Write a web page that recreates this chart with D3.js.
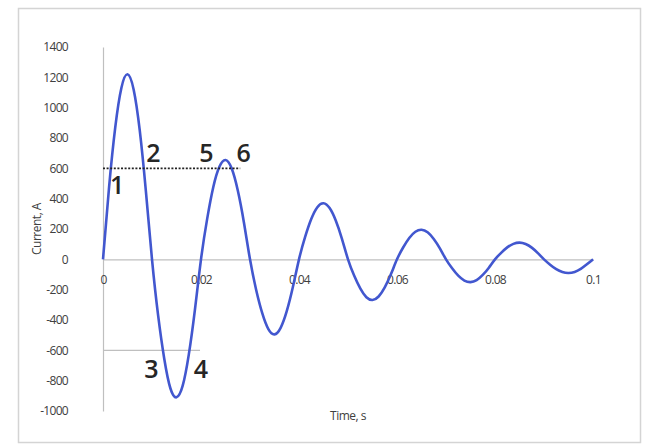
<!DOCTYPE html>
<html>
<head>
<meta charset="utf-8">
<script src="https://cdn.jsdelivr.net/npm/d3@7"></script>
<style>
  html, body { margin: 0; padding: 0; background: #ffffff; }
  svg { display: block; }
</style>
</head>
<body>
<svg id="chart" width="647" height="446"></svg>
<script>
// ---- data ----
const timeValues = [
  0, 0.00125, 0.0025, 0.00375, 0.005, 0.00625, 0.0075, 0.00875,
  0.01, 0.01125, 0.0125, 0.01375, 0.015, 0.01625, 0.0175, 0.01875,
  0.02, 0.02125, 0.0225, 0.02375, 0.025, 0.02625, 0.0275, 0.02875,
  0.03, 0.03125, 0.0325, 0.03375, 0.035, 0.03625, 0.0375, 0.03875,
  0.04, 0.04125, 0.0425, 0.04375, 0.045, 0.04625, 0.0475, 0.04875,
  0.05, 0.05125, 0.0525, 0.05375, 0.055, 0.05625, 0.0575, 0.05875,
  0.06, 0.06125, 0.0625, 0.06375, 0.065, 0.06625, 0.0675, 0.06875,
  0.07, 0.07125, 0.0725, 0.07375, 0.075, 0.07625, 0.0775, 0.07875,
  0.08, 0.08125, 0.0825, 0.08375, 0.085, 0.08625, 0.0875, 0.08875,
  0.09, 0.09125, 0.0925, 0.09375, 0.095, 0.09625, 0.0975, 0.09875,
  0.1
];
const currentValues = [
  0, 480, 870, 1130, 1220, 1120, 850, 450,
  0, -370, -655, -850, -910, -835, -630, -335,
  0, 265, 475, 610, 655, 600, 455, 245,
  0, -200, -355, -460, -495, -452, -342, -183,
  0, 148, 266, 344, 370, 338, 256, 137,
  0, -107, -192, -250, -268, -245, -185, -99,
  0, 78, 141, 182, 195, 178, 134, 72,
  0, -59, -108, -140, -150, -137, -103, -55,
  0, 43, 79, 102, 110, 101, 77, 41,
  0, -35, -65, -84, -90, -83, -63, -33,
  0
];
const xTicks = [0, 0.02, 0.04, 0.06, 0.08, 0.1];
const xTickLabels = ["0", "0.02", "0.04", "0.06", "0.08", "0.1"];
const yTicks = [1400, 1200, 1000, 800, 600, 400, 200, 0, -200, -400, -600, -800, -1000];
const yTickLabels = ["1400", "1200", "1000", "800", "600", "400", "200", "0", "-200", "-400", "-600", "-800", "-1000"];
// reference lines
const upperLevel = 600, upperLevelEnd = 0.028;
const lowerLevel = -600, lowerLevelEnd = 0.0198;
// point markers: [label, time, current]
const markers = [
  ["1", 0.0029, 430],
  ["2", 0.0103, 640],
  ["5", 0.0211, 640],
  ["6", 0.0287, 640],
  ["3", 0.0099, -780],
  ["4", 0.0200, -780]
];
const xTitle = "Time, s";
const yTitle = "Current, A";

// ---- drawing ----
const svg = d3.select("#chart");
const W = 647, H = 446;
const plot = { left: 103, right: 593, top: 47, bottom: 411 };

svg.append("rect").attr("x", 0).attr("y", 0).attr("width", W).attr("height", H).attr("fill", "#fff");
svg.append("rect")
  .attr("x", 18.5).attr("y", 8.5).attr("width", 622).attr("height", 434)
  .attr("fill", "#fff").attr("stroke", "#d4d4d4").attr("stroke-width", 1.5);

const x = d3.scaleLinear().domain([0, 0.1]).range([plot.left, plot.right]);
const y = d3.scaleLinear().domain([-1000, 1400]).range([plot.bottom, plot.top]);

const axisColor = "#bfbfbf";
const labelColor = "#404040";
const fontFam = "'Open Sans', 'Liberation Sans', sans-serif";

// y axis (line only, labels on the left)
const yAxis = d3.axisLeft(y).tickValues(yTicks).tickSize(0).tickPadding(35)
  .tickFormat((d, i) => yTickLabels[i]);
const gy = svg.append("g").attr("transform", `translate(${plot.left},0)`).call(yAxis);
gy.select(".domain").attr("stroke", axisColor).attr("stroke-width", 1.2);
gy.selectAll("text").attr("fill", labelColor).attr("font-size", 12)
  .attr("font-family", fontFam).attr("letter-spacing", -0.7);

// x axis at zero
const xAxis = d3.axisBottom(x).tickValues(xTicks).tickSize(0).tickPadding(25)
  .tickFormat((d, i) => xTickLabels[i]);
const gx = svg.append("g").attr("transform", `translate(0,${y(0)})`).call(xAxis);
gx.select(".domain").attr("stroke", axisColor).attr("stroke-width", 1.2);
gx.selectAll("text").attr("fill", labelColor).attr("font-size", 12)
  .attr("font-family", fontFam).attr("letter-spacing", -0.7).attr("dy", "0");

// -600 reference line
svg.append("line")
  .attr("x1", x(0)).attr("x2", x(lowerLevelEnd))
  .attr("y1", y(lowerLevel)).attr("y2", y(lowerLevel))
  .attr("stroke", axisColor).attr("stroke-width", 1.2);

// curve
const pts = timeValues.map((t, i) => [t, currentValues[i]]);
const line = d3.line().x(d => x(d[0])).y(d => y(d[1])).curve(d3.curveNatural);
svg.append("path").datum(pts)
  .attr("d", line).attr("fill", "none")
  .attr("stroke", "#4257cf").attr("stroke-width", 2.6).attr("stroke-linejoin", "round");

// +600 dotted line
svg.append("line")
  .attr("x1", x(0)).attr("x2", x(upperLevelEnd))
  .attr("y1", y(upperLevel)).attr("y2", y(upperLevel))
  .attr("stroke", "#222").attr("stroke-width", 1.6).attr("stroke-dasharray", "2,1.6");

// markers
svg.selectAll("text.marker").data(markers).enter().append("text")
  .attr("class", "marker")
  .attr("x", d => x(d[1])).attr("y", d => y(d[2]))
  .attr("text-anchor", "middle")
  .attr("font-family", fontFam).attr("font-weight", 600)
  .attr("font-size", 25).attr("fill", "#262626")
  .text(d => d[0]);

// axis titles
svg.append("text")
  .attr("x", (plot.left + plot.right) / 2).attr("y", 420)
  .attr("text-anchor", "middle").attr("font-family", fontFam)
  .attr("font-size", 12).attr("fill", labelColor).attr("letter-spacing", -0.5)
  .text(xTitle);
svg.append("text")
  .attr("transform", `translate(41,${(plot.top + plot.bottom) / 2}) rotate(-90)`)
  .attr("text-anchor", "middle").attr("font-family", fontFam)
  .attr("font-size", 12).attr("fill", labelColor).attr("letter-spacing", -0.5)
  .text(yTitle);
</script>
</body>
</html>
